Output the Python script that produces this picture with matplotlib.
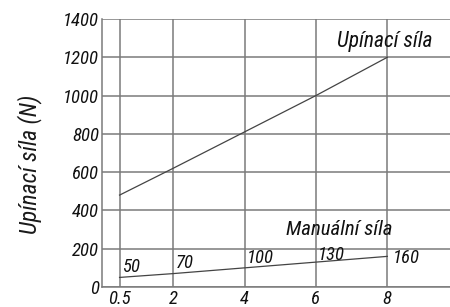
import matplotlib
matplotlib.use("Agg")
import matplotlib.pyplot as plt
from matplotlib import font_manager

x_vals = [0.5, 2, 4, 6, 8]
upinaci = [480, 620, 810, 1000, 1200]
manualni = [50, 70, 100, 130, 160]
manual_labels = ["50", "70", "100", "130", "160"]
y_ticks = [0, 200, 400, 600, 800, 1000, 1200, 1400]
x_tick_labels = ["0.5", "2", "4", "6", "8"]

names = {f.name for f in font_manager.fontManager.ttflist}
fam = "DejaVu Sans"
for cand in ["Roboto Condensed", "Archivo Narrow", "Liberation Sans Narrow"]:
    if cand in names:
        fam = cand
        break
plt.rcParams["font.family"] = [fam, "DejaVu Sans"]
plt.rcParams["font.style"] = "italic"

fig = plt.figure(figsize=(4.5, 3.07), dpi=100)
W, H = 450, 307
left, right, top, bottom = 101.7, 450, 19, 287
ax = fig.add_axes([left / W, 1 - bottom / H, (right - left) / W, (bottom - top) / H])

ax.set_xlim(0, (right - left) / 35.7)
ax.set_ylim(0, 1400)

gc = "#7a7a7a"
ax.set_yticks(y_ticks)
ax.set_xticks(x_vals)
ax.set_xticklabels(x_tick_labels)
ax.grid(True, color=gc, linewidth=1.1)
ax.set_axisbelow(True)
for s in ["top", "right"]:
    ax.spines[s].set_visible(False)
for s in ["left", "bottom"]:
    ax.spines[s].set_color(gc)
    ax.spines[s].set_linewidth(1.1)
ax.tick_params(length=0, labelsize=13.5, colors="#111111")
ax.tick_params(axis="y", pad=2)
ax.tick_params(axis="x", pad=2)

lc = "#444444"
ax.plot(x_vals, upinaci, color=lc, linewidth=0.9, clip_on=False)
ax.plot(x_vals, manualni, color=lc, linewidth=0.9, clip_on=False)

label_dx = [0.07, 0.08, 0.06, 0.06, 0.16]
label_dy = [54, 55, 51, 37, -9]
for xv, yv, lab, dx, dy in zip(x_vals, manualni, manual_labels, label_dx, label_dy):
    ax.text(xv + dx, yv + dy, lab, fontsize=13.5, ha="left", va="center", color="#111111")

ax.text(7.94, 1280, "Upínací síla", fontsize=15.5, ha="center", va="center", color="#111111")
ax.text(6.65, 300, "Manuální síla", fontsize=15, ha="center", va="center", color="#111111")

fig.text(30 / W, 1 - 164 / H, "Upínací síla (N)", rotation=90, fontsize=17,
         ha="center", va="center", color="#1a1a1a")

fig.savefig("out.png", dpi=100)
